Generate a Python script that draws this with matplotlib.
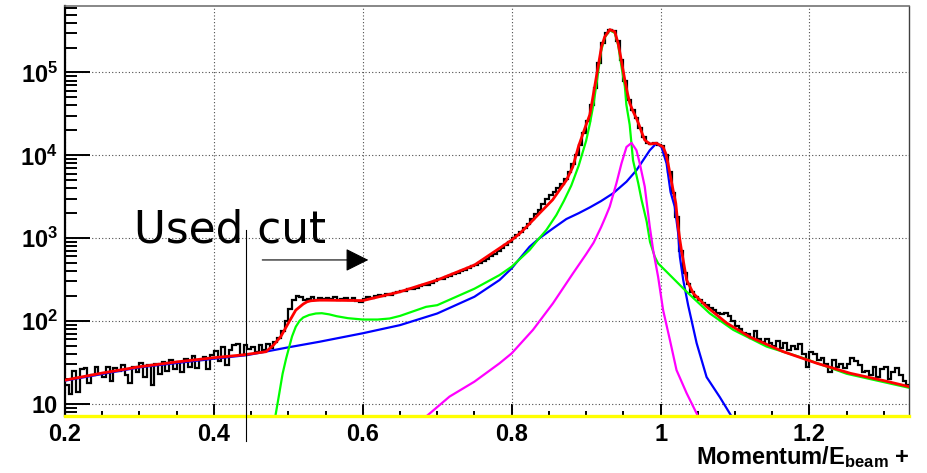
import numpy as np
import matplotlib
matplotlib.use('Agg')
import matplotlib.pyplot as plt
from matplotlib.ticker import LogLocator, FixedLocator, FuncFormatter, NullFormatter

plt.rcParams['font.family'] = ['Liberation Sans', 'DejaVu Sans']
plt.rcParams['font.weight'] = 'bold'
plt.rcParams['mathtext.fontset'] = 'custom'
plt.rcParams['mathtext.rm'] = 'Liberation Sans:bold'
plt.rcParams['mathtext.it'] = 'Liberation Sans:bold'
plt.rcParams['mathtext.bf'] = 'Liberation Sans:bold'
plt.rcParams['mathtext.default'] = 'rm'

# measured spectrum, 0.005 wide bins from 0.2 to 1.335
bin_lo, bin_hi, n_bins = 0.2, 1.335, 227
data_counts = [
    17, 13, 25, 14, 26, 27, 18, 22, 28, 23,
    21, 28, 19, 27, 25, 29, 22, 18, 28, 24,
    31, 21, 29, 17, 30, 23, 32, 25, 34, 26,
    32, 24, 35, 28, 38, 27, 34, 37, 26, 39,
    43, 33, 48, 29, 45, 51, 53, 39, 51, 46,
    49, 42, 51, 45, 53, 47, 55, 62, 75, 100,
    140, 180, 200, 192, 178, 186, 195, 180, 190, 185,
    188, 182, 192, 178, 185, 190, 180, 188, 176, 170,
    185, 195, 190, 200, 205, 198, 212, 205, 218, 222,
    230, 228, 240, 245, 250, 262, 270, 275, 290, 300,
    318, 325, 340, 352, 368, 380, 400, 412, 430, 455,
    480, 500, 530, 560, 600, 640, 700, 760, 830, 910,
    1000, 1080, 1180, 1330, 1500, 1700, 1950, 2200, 2600, 2950,
    3300, 3600, 4000, 4500, 5200, 6200, 7800, 10000, 13500, 18500,
    26000, 40000, 65000, 130000, 230000, 300000, 330000, 315000, 240000, 140000,
    80000, 47000, 35000, 28000, 21500, 16500, 14200, 13800, 14000, 13500,
    12800, 10000, 6300, 3500, 1800, 700, 380, 280, 225, 195,
    178, 165, 155, 145, 135, 126, 120, 125, 115, 100,
    86, 80, 72, 70, 62, 76, 60, 56, 60, 54,
    50, 58, 47, 54, 44, 50, 46, 52, 40, 28,
    42, 40, 34, 36, 30, 24, 34, 28, 30, 27,
    30, 36, 33, 29, 24, 25, 22, 28, 21, 26,
    28, 20, 24, 27, 22, 19, 17,
]

# total fit
fit_x = [0.2, 0.25, 0.3, 0.35, 0.4, 0.44, 0.47, 0.48, 0.49, 0.5, 0.51, 0.52, 0.525,
         0.53, 0.54, 0.55, 0.6, 0.65, 0.7, 0.75, 0.8, 0.81, 0.82, 0.8375, 0.855,
         0.8735, 0.882, 0.89, 0.9, 0.905, 0.9085, 0.913, 0.9207, 0.925, 0.9318,
         0.9385, 0.943, 0.946, 0.9488, 0.952, 0.955, 0.9586, 0.963, 0.9675, 0.971,
         0.9743, 0.9787, 0.9855, 0.9945, 1.0034, 1.007, 1.0101, 1.0134, 1.0168,
         1.0204, 1.0236, 1.0259, 1.028, 1.035, 1.044, 1.062, 1.089, 1.12, 1.165,
         1.21, 1.255, 1.3, 1.335]
fit_y = [19.3, 23.5, 28, 32, 36, 39, 42.5, 51, 65, 94, 135, 160, 170,
         175, 178, 178, 176, 225, 312, 473, 948, 1120, 1370, 2000, 2900,
         5000, 7200, 13000, 23400, 31000, 47000, 81000, 205000, 270000, 330000,
         310000, 224000, 162000, 117000, 81000, 59000, 42600, 34000, 28000, 23400,
         19300, 15300, 13700, 14000, 12600, 10500, 7900, 5500, 3800,
         2640, 1370, 950, 718, 312, 215, 148, 94, 64, 42.5,
         30.8, 23.3, 19, 16]

# main peak component
peak_x = [0.4825, 0.487, 0.4923, 0.497, 0.5013, 0.505, 0.51, 0.515, 0.52, 0.528,
          0.537, 0.545, 0.555, 0.565, 0.58, 0.6, 0.62, 0.636, 0.65, 0.685, 0.7,
          0.75, 0.7837, 0.8, 0.824, 0.835, 0.8465, 0.86, 0.87, 0.88, 0.89, 0.9,
          0.905, 0.91, 0.915, 0.92, 0.925, 0.9318, 0.9385, 0.943, 0.948, 0.952,
          0.954, 0.9585, 0.963, 0.97, 0.9745, 0.9813, 0.9858, 0.9922, 0.9967, 1.008,
          1.035, 1.0662, 1.0976, 1.1425, 1.19, 1.25, 1.335]
peak_y = [7.0, 12, 23, 35, 49, 65, 85, 100, 110, 118,
          123, 124, 120, 114, 108, 104, 104, 107, 115, 148, 155,
          245, 358, 452, 718, 950, 1250, 1900, 2800, 4300, 7500, 15000,
          24000, 42000, 85000, 180000, 265000, 325000, 300000, 215000, 110000, 68000,
          41000, 23400, 8700, 4600, 2880, 1590, 900, 596, 495, 393,
          225, 123, 78, 49, 36, 23, 15.5]

# radiative tail component
tail_x = [0.2, 0.3, 0.4, 0.445, 0.5, 0.5416, 0.6, 0.65, 0.7, 0.75, 0.7837, 0.8,
          0.824, 0.8375, 0.855, 0.8734, 0.89, 0.905, 0.92, 0.9361, 0.9542, 0.9676,
          0.9765, 0.9855, 0.9945, 1.0012, 1.008, 1.0134, 1.019, 1.0236, 1.0259,
          1.0304, 1.037, 1.0484, 1.0618, 1.0796, 1.0955]
tail_y = [19, 27.5, 35, 38.7, 48, 56, 71, 89, 123, 196, 312, 432,
          787, 1000, 1300, 1700, 2000, 2350, 2800, 3470, 4800, 6600,
          8700, 11500, 14000, 12600, 8000, 3600, 2400, 1150, 596,
          312, 155, 54, 21, 12, 7.0]

# second peak component
side_x = [0.685, 0.7165, 0.75, 0.7837, 0.8, 0.8286, 0.8554, 0.8824, 0.9, 0.91,
          0.92, 0.926, 0.9317, 0.9407, 0.9475, 0.9542, 0.961, 0.9676, 0.972, 0.9787,
          0.9855, 0.99, 0.9967, 1.0034, 1.0125, 1.0214, 1.035, 1.0505]
side_y = [7.0, 12.2, 18.5, 30.8, 40.6, 78, 163, 376, 640, 880,
          1350, 1800, 2400, 4600, 8000, 12600, 14100, 11500, 8000, 4200,
          1370, 718, 340, 135, 59, 25.5, 13.4, 7.0]

cut_x = 0.4435
y_lo, y_hi = 7.17, 6.35e5

fig = plt.figure(figsize=(9.28, 4.73), dpi=100)
ax = fig.add_axes([0.0700, 0.1211, 0.9098, 0.8662])
ax.set_yscale('log')
ax.set_xlim(0.2, 1.334)
ax.set_ylim(y_lo, y_hi)

edges = np.linspace(bin_lo, bin_hi, n_bins + 1)
ax.stairs(data_counts, edges, color='black', lw=1.6, baseline=None, zorder=3)
ax.plot(tail_x, tail_y, color='#0000ff', lw=1.6, zorder=4)
ax.plot(peak_x, peak_y, color='#00ff00', lw=1.6, zorder=4)
ax.plot(side_x, side_y, color='#ff00ff', lw=1.6, zorder=4)
ax.plot(fit_x, fit_y, color='#ff0000', lw=2.0, zorder=5)
# empty component sits on the floor of the frame
ax.axhline(y_lo, color='#ffff00', lw=2.4, zorder=6, clip_on=False)

ax.grid(True, which='major', ls=(0, (1, 2)), color='0.3', lw=0.8, zorder=1)

ax.xaxis.set_major_locator(FixedLocator([0.2, 0.4, 0.6, 0.8, 1.0, 1.2]))
ax.xaxis.set_minor_locator(FixedLocator(np.arange(0.25, 1.34, 0.05)))
ax.xaxis.set_major_formatter(FuncFormatter(lambda v, p: f'{v:g}'))
ax.yaxis.set_major_locator(LogLocator(base=10))
ax.yaxis.set_minor_locator(LogLocator(base=10, subs=np.arange(2, 10)))
ax.yaxis.set_minor_formatter(NullFormatter())
ax.yaxis.set_major_formatter(FuncFormatter(
    lambda v, p: '10' if round(np.log10(v)) == 1 else f'$10^{{{int(round(np.log10(v)))}}}$'))

ax.tick_params(which='both', direction='in', width=1.4, color='black', labelsize=17)
ax.tick_params(axis='y', which='major', length=18, pad=5)
ax.tick_params(axis='y', which='minor', length=8.5)
ax.tick_params(axis='x', which='major', length=8.5, pad=5)
ax.tick_params(axis='x', which='minor', length=3.5)
for lab in ax.get_xticklabels() + ax.get_yticklabels():
    lab.set_fontweight('bold')

ax.spines['left'].set_linewidth(1.6)
ax.spines['bottom'].set_visible(False)
ax.spines['top'].set_color('0.45')
ax.spines['top'].set_linewidth(1.2)
ax.spines['right'].set_color('0.25')
ax.spines['right'].set_linewidth(1.0)

fig.text(0.9806, 1 - 457 / 473, r'Momentum/E$_{beam}$ +', ha='right', va='center',
         fontsize=17, fontweight='bold')

# selection cut and its direction
ax.axvline(cut_x, ymin=-0.062, ymax=0.453, color='black', lw=0.8, clip_on=False, zorder=7)
ax.annotate('', xy=(0.6075, 545), xytext=(0.465, 545),
            arrowprops=dict(arrowstyle='-|>,head_length=0.72,head_width=0.36',
                            mutation_scale=20, color='black', lw=0.8,
                            shrinkA=0, shrinkB=0), zorder=7)
ax.text(0.2928, 1250, 'Used cut', ha='left', va='center', fontsize=31.5,
        fontweight='normal', family='DejaVu Sans', zorder=7)

fig.savefig('out.png', dpi=100)
